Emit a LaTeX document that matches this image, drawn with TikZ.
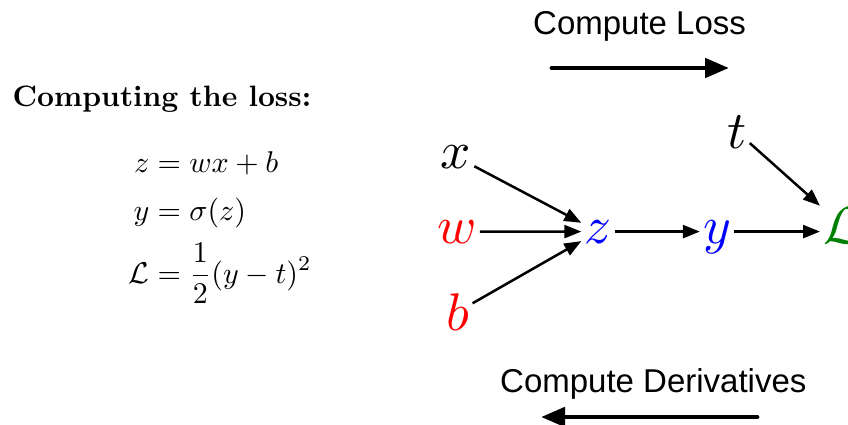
\documentclass[tikz,border=0pt]{standalone}
\usepackage{amsmath}
\usepackage{fontspec}
\setsansfont{Liberation Sans}
\usetikzlibrary{arrows.meta}
\definecolor{lred}{rgb}{1,0,0}
\definecolor{lblue}{rgb}{0,0,1}
\definecolor{lgreen}{rgb}{0,0.5,0}
\begin{document}
\begin{tikzpicture}[x=1pt,y=-1pt,
  var/.style={scale=5.3,inner sep=0.4pt,anchor=base},
  edge/.style={line width=2.5pt,-{Triangle[length=17pt,width=13pt]}},
  bigarrow/.style={line width=4.8pt,line cap=round,-{Triangle[length=24pt,width=19pt]}},
  label/.style={font=\fontsize{33}{40}\selectfont\sffamily,inner sep=0pt,anchor=base west}]
\useasboundingbox (0,0) rectangle (848,425);
% left text
\node[scale=2.95,inner sep=0pt,anchor=base west] (title) at (12,107) {\bfseries Computing the loss:};
\node[scale=3,inner sep=0pt,anchor=base west] (eqs) at (128,172)
  {$\begin{aligned}[t] z &= wx+b\\[1.2pt] y &= \sigma(z)\\ \mathcal{L} &= \frac{1}{2}(y-t)^2\end{aligned}$};
% graph
\node[var] (x) at (456,168) {$x$};
\node[var] (w) at (457,243) {$\color{lred}w$};
\node[var] (b) at (458,330) {$\color{lred}b$};
\node[var] (z) at (598,243) {$\color{lblue}z$};
\node[var] (y) at (717,243) {$\color{lblue}y$};
\node[var] (t) at (737,148) {$t$};
\node[var,anchor=base west] (L) at (820,243) {$\color{lgreen}\mathcal{L}$};
\draw[edge] (x) -- (z);
\draw[edge] (w) -- (z);
\draw[edge] (b) -- (z);
\draw[edge] (z.east) -- (y.west |- z.east);
\draw[edge] (y.east |- z.east) -- (L.west |- z.east);
\draw[edge] (t) -- (L);
% direction labels
\node[label] (cl) at (533,35) {Compute Loss};
\node[label] (cd) at (500,392) {Compute Derivatives};
\coordinate (fa) at (552,68);
\coordinate (fb) at (729,68);
\coordinate (ba) at (757,417);
\coordinate (bb) at (541,417);
\draw[bigarrow] (fa) -- (fb);
\draw[bigarrow] (ba) -- (bb);
\end{tikzpicture}
\end{document}
